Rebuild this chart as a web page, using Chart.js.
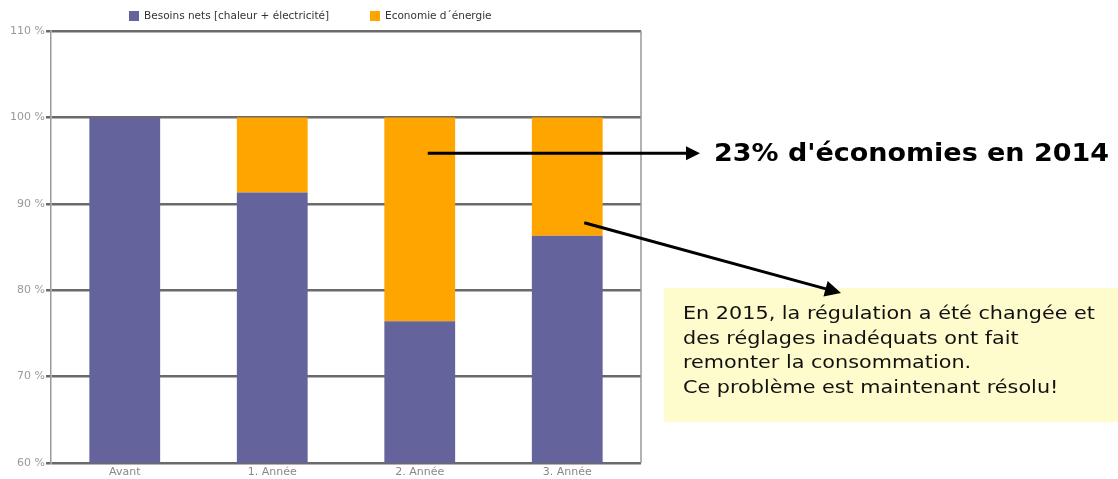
<!DOCTYPE html>
<html><head><meta charset="utf-8">
<script src="https://cdn.jsdelivr.net/npm/chart.js@4.4.1/dist/chart.umd.min.js"></script>
<style>html,body{margin:0;padding:0;background:#fff;}canvas{display:block;}</style>
</head><body>
<canvas id="c" width="1118" height="479"></canvas>
<script>
const categories = ['Avant', '1. Année', '2. Année', '3. Année'];
const besoinsNets = [100, 91.3, 76.4, 86.3];
const economie = [0, 8.7, 23.6, 13.7];
const yTicks = [60, 70, 80, 90, 100, 110];
const seriesNames = ['Besoins nets [chaleur + électricité]', 'Economie d´énergie'];
const headline = "23% d'économies en 2014";
const noteLines = ['En 2015, la régulation a été changée et', 'des réglages inadéquats ont fait', 'remonter la consommation.', 'Ce problème est maintenant résolu!'];

const BLUE = '#64639b', ORANGE = '#ffa500';

function arrow(ctx, x1, y1, x2, y2, head) {
  const a = Math.atan2(y2 - y1, x2 - x1);
  ctx.save();
  ctx.strokeStyle = '#000'; ctx.fillStyle = '#000'; ctx.lineWidth = 3;
  ctx.beginPath(); ctx.moveTo(x1, y1);
  ctx.lineTo(x2 - Math.cos(a) * head * 0.8, y2 - Math.sin(a) * head * 0.8); ctx.stroke();
  ctx.beginPath();
  ctx.moveTo(x2, y2);
  ctx.lineTo(x2 - head * Math.cos(a) + head * 0.5 * Math.sin(a), y2 - head * Math.sin(a) - head * 0.5 * Math.cos(a));
  ctx.lineTo(x2 - head * Math.cos(a) - head * 0.5 * Math.sin(a), y2 - head * Math.sin(a) + head * 0.5 * Math.cos(a));
  ctx.closePath(); ctx.fill();
  ctx.restore();
}

function stretchText(ctx, t, x, y, sx) {
  ctx.save(); ctx.translate(x, y); ctx.scale(sx, 1); ctx.fillText(t, 0, 0); ctx.restore();
}

const deco = {
  id: 'deco',
  beforeDatasetsDraw(chart) {
    const ctx = chart.ctx, a = chart.chartArea;
    ctx.save();
    ctx.strokeStyle = '#999'; ctx.lineWidth = 1.5;
    ctx.beginPath(); ctx.moveTo(a.right, a.top); ctx.lineTo(a.right, a.bottom); ctx.stroke();
    ctx.restore();
  },
  afterDraw(chart) {
    const ctx = chart.ctx;
    const xs = chart.scales.x, ys = chart.scales.y;
    ctx.save();
    // legend
    ctx.font = '10.5px "DejaVu Sans"'; ctx.textBaseline = 'middle';
    const legX = [129, 370];
    [BLUE, ORANGE].forEach((c, i) => {
      ctx.fillStyle = c; ctx.fillRect(legX[i], 11, 10, 10);
      ctx.fillStyle = '#333'; ctx.fillText(seriesNames[i], legX[i] + 15, 16);
    });
    // headline arrow
    const y1 = ys.getPixelForValue(95.85);
    arrow(ctx, xs.getPixelForValue(2) + 8, y1, 700, y1, 14);
    ctx.font = 'bold 24px "DejaVu Sans"'; ctx.fillStyle = '#000'; ctx.textBaseline = 'middle';
    let w = ctx.measureText(headline).width;
    stretchText(ctx, headline, 714, y1 + 2, 395 / w);
    // note box
    ctx.fillStyle = '#fefbcc';
    ctx.fillRect(664, 288, 454, 134);
    arrow(ctx, xs.getPixelForValue(3) + 17, ys.getPixelForValue(87.8), 841, 293, 16);
    ctx.font = '18.5px "DejaVu Sans"'; ctx.fillStyle = '#111'; ctx.textBaseline = 'alphabetic';
    w = ctx.measureText(noteLines[0]).width;
    const sx = 412 / w;
    noteLines.forEach((t, i) => stretchText(ctx, t, 683, 319 + i * 24.5, sx));
    ctx.restore();
  }
};

new Chart(document.getElementById('c'), {
  type: 'bar',
  data: {
    labels: categories,
    datasets: [
      { label: seriesNames[0], data: besoinsNets, backgroundColor: BLUE, borderWidth: 0 },
      { label: seriesNames[1], data: economie, backgroundColor: ORANGE, borderWidth: 0 }
    ]
  },
  options: {
    responsive: false, animation: false,
    layout: { padding: { left: 0, right: 477, top: 31, bottom: 0 } },
    plugins: { legend: { display: false }, tooltip: { enabled: false } },
    datasets: { bar: { categoryPercentage: 1, barPercentage: 0.48 } },
    scales: {
      x: {
        stacked: true,
        grid: { display: false, drawTicks: false },
        border: { display: false },
        ticks: { color: '#888', font: { family: 'DejaVu Sans', size: 11 }, padding: 3 },
        afterFit(s) { s.height = 16; }
      },
      y: {
        stacked: true, min: 60, max: 110,
        afterBuildTicks(s) { s.ticks = yTicks.map(v => ({ value: v })); },
        grid: { color: '#6a6a6a', lineWidth: 2.5, tickLength: 5, drawTicks: true },
        border: { display: true, color: '#999', width: 1.5 },
        ticks: { color: '#999', font: { family: 'DejaVu Sans', size: 11 }, padding: 1, callback: v => v + ' %' },
        afterFit(s) { s.width = 51; }
      }
    }
  },
  plugins: [deco]
});
</script>
</body></html>
